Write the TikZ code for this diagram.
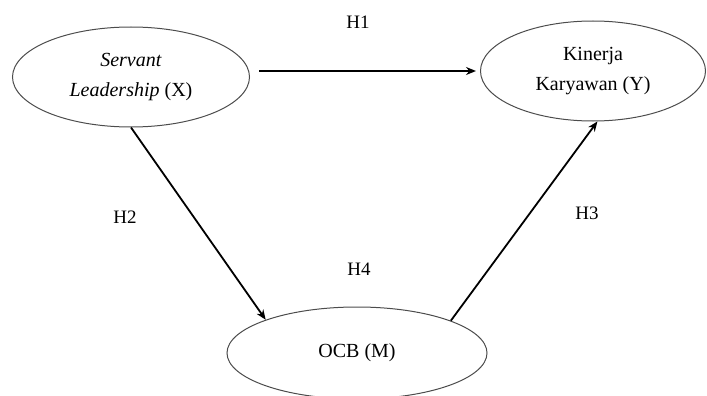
\documentclass[tikz,border=0pt]{standalone}
\usepackage{fontspec}
\setmainfont{Liberation Serif}
\usetikzlibrary{arrows.meta,shapes.geometric}

\tikzset{
	varnode/.style={ellipse, draw=black!70, line width=1pt, inner sep=0pt, align=center, font=\fontsize{20}{30}\selectfont},
	hyparrow/.style={line width=1.8pt, -{Stealth[length=10pt,width=8pt]}},
	hlabel/.style={font=\fontsize{19}{22}\selectfont}
}

\begin{document}
\begin{tikzpicture}[x=1pt,y=-1pt]
	\useasboundingbox (0,0) rectangle (707,396);
	% variables
	\node[varnode, minimum width=237pt, minimum height=100pt] (X) at (131,77) {\textit{Servant}\\\textit{Leadership} (X)};
	\node[varnode, minimum width=225pt, minimum height=100pt] (Y) at (593,71) {Kinerja\\Karyawan (Y)};
	\node[varnode, minimum width=260pt, minimum height=92pt] (M) at (357,353) {OCB (M)};
	% hypotheses
	\draw[hyparrow, shorten >=4pt] ([xshift=9pt]X.east |- Y.west) -- (Y.west);
	\draw[hyparrow] (X.south) -- (M.160);
	\draw[hyparrow] (M.19) -- (Y.-85);
	\node[hlabel] (h1) at (358,22) {H1};
	\node[hlabel] (h2) at (125,217) {H2};
	\node[hlabel] (h3) at (587,213) {H3};
	\node[hlabel] (h4) at (359,269) {H4};
\end{tikzpicture}
\end{document}
